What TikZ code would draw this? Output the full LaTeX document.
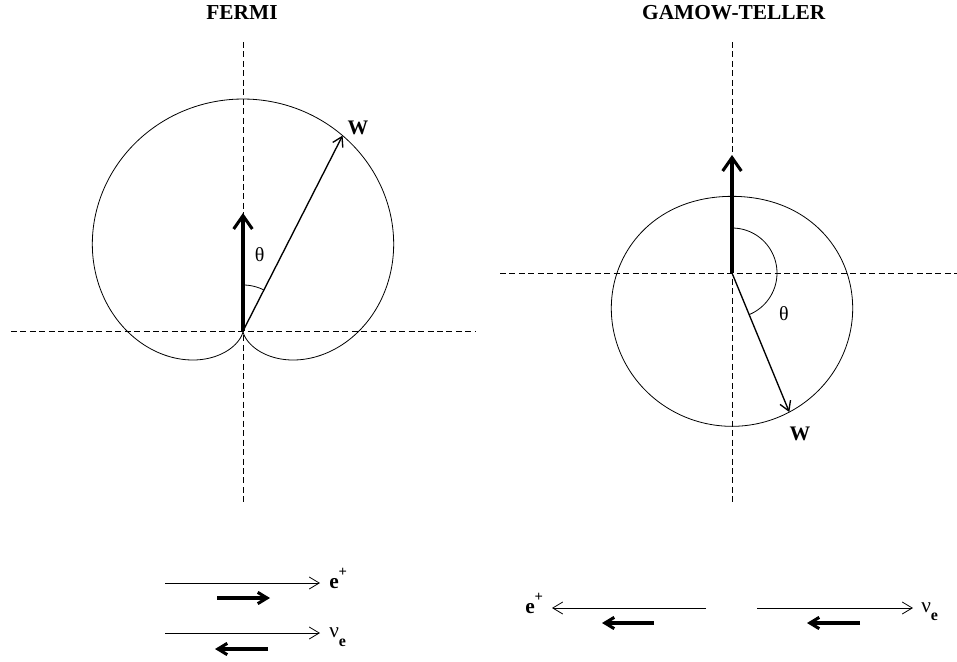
\documentclass[tikz,border=0pt]{standalone}
\usepackage{fontspec}
\setmainfont{Liberation Serif}
\usetikzlibrary{arrows.meta}
\begin{document}
\begin{tikzpicture}[x=0.75pt,y=-0.75pt,
  axisline/.style={line width=0.6pt, dash pattern=on 4.5pt off 2.6pt},
  curveline/.style={line width=0.6pt},
  spinarr/.style={line width=2.3pt, -{Straight Barb[length=10pt,width=14pt]}},
  wvec/.style={line width=1pt, -{Straight Barb[length=7pt,width=8.5pt]}},
  thinarr/.style={line width=0.6pt, -{Straight Barb[length=7.5pt,width=9pt]}},
  thickarr/.style={line width=2.3pt, -{Straight Barb[length=7pt,width=8.5pt]}},
  titlelbl/.style={inner sep=0pt, font=\fontsize{16}{19}\selectfont\bfseries},
  wlbl/.style={inner sep=0pt, font=\fontsize{15.5}{18}\selectfont\bfseries},
  thlbl/.style={inner sep=0pt, font=\fontsize{15}{18}\selectfont},
  partlbl/.style={inner sep=0pt, anchor=base west, font=\fontsize{16}{18}\selectfont}
]
\useasboundingbox (0,0) rectangle (957,661);

% ---------- FERMI ----------
\node[titlelbl] (tF) at (242,12.7) {FERMI};
\coordinate (O1) at (243,331);
\coordinate (V1t) at (243,42);
\coordinate (V1b) at (243,505);
\coordinate (H1l) at (11,331);
\coordinate (H1r) at (475,331);
\draw[axisline] (V1t) -- (V1b);
\draw[axisline] (H1l) -- (H1r);
\draw[curveline] plot[domain=0:360, samples=240, smooth]
  ({243+116*(1+cos(\x))*sin(\x)},{331-116*(1+cos(\x))*cos(\x)});
\coordinate (S1) at (243,213);
\coordinate (W1) at ({243+116*(1+cos(27))*sin(27)},{331-116*(1+cos(27))*cos(27)});
\draw[curveline] plot[domain=0:27, samples=20, smooth]
  ({243+46*sin(\x)},{331-46*cos(\x)});
\draw[spinarr] (O1) -- (S1);
\draw[wvec] (O1) -- (W1);
\node[wlbl] (wF) at (358,127.5) {W};
\node[thlbl] (thF) at (259.7,255) {θ};

% ---------- GAMOW-TELLER ----------
\node[titlelbl] (tG) at (733.7,12.7) {GAMOW-TELLER};
\coordinate (O2) at (732,273);
\coordinate (V2t) at (732,42);
\coordinate (V2b) at (732,503);
\coordinate (H2l) at (500,273);
\coordinate (H2r) at (957,273);
\draw[axisline] (V2t) -- (V2b);
\draw[axisline] (H2l) -- (H2r);
\draw[curveline] plot[domain=0:360, samples=240, smooth]
  ({732+115*(1-cos(\x)/3)*sin(\x)},{273-115*(1-cos(\x)/3)*cos(\x)});
\coordinate (S2) at (732,155);
\coordinate (W2) at ({732+115*(1-cos(157.6)/3)*sin(157.6)},{273-115*(1-cos(157.6)/3)*cos(157.6)});
\draw[curveline] plot[domain=0:157.6, samples=60, smooth]
  ({732+45*sin(\x)},{273-45*cos(\x)});
\draw[spinarr] (O2) -- (S2);
\draw[wvec] (O2) -- (W2);
\node[wlbl] (wG) at (800,434) {W};
\node[thlbl] (thG) at (784,313.3) {θ};

% ---------- helicities, Fermi ----------
\coordinate (a1s) at (165,583); \coordinate (a1e) at (320,583);
\coordinate (b1s) at (217,598); \coordinate (b1e) at (270,598);
\coordinate (a2s) at (165,633); \coordinate (a2e) at (320,633);
\coordinate (b2s) at (268,649); \coordinate (b2e) at (215,649);
\draw[thinarr] (a1s) -- (a1e);
\draw[thickarr] (b1s) -- (b1e);
\draw[thinarr] (a2s) -- (a2e);
\draw[thickarr] (b2s) -- (b2e);
\node[partlbl] (eF) at (329,588) {\textbf{e}\raisebox{8.5pt}{\fontsize{11}{11}\selectfont\bfseries +}};
\node[partlbl] (nF) at (329,637.5) {ν\raisebox{-6.5pt}{\fontsize{12}{12}\selectfont\bfseries e}};

% ---------- helicities, Gamow-Teller ----------
\coordinate (c1s) at (706,608); \coordinate (c1e) at (552,608);
\coordinate (d1s) at (654,623); \coordinate (d1e) at (602,623);
\coordinate (c2s) at (757,608); \coordinate (c2e) at (913,608);
\coordinate (d2s) at (860,623); \coordinate (d2e) at (807,623);
\draw[thinarr] (c1s) -- (c1e);
\draw[thickarr] (d1s) -- (d1e);
\draw[thinarr] (c2s) -- (c2e);
\draw[thickarr] (d2s) -- (d2e);
\node[partlbl] (eG) at (525,613) {\textbf{e}\raisebox{8.5pt}{\fontsize{11}{11}\selectfont\bfseries +}};
\node[partlbl] (nG) at (921,612) {ν\raisebox{-6.5pt}{\fontsize{12}{12}\selectfont\bfseries e}};
\end{tikzpicture}
\end{document}
